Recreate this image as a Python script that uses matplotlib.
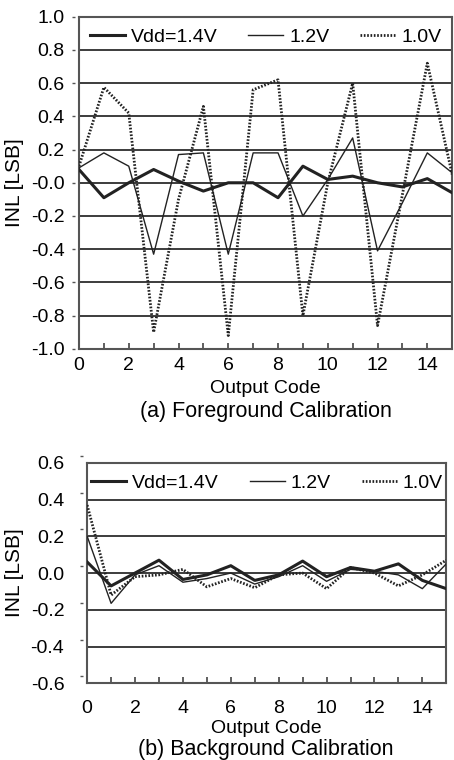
import matplotlib
matplotlib.use("Agg")
import matplotlib.pyplot as plt
import numpy as np
from matplotlib.transforms import ScaledTranslation

plt.rcParams['font.family'] = ['Liberation Sans', 'DejaVu Sans']

codes = np.arange(16)
labels = ['Vdd=1.4V', '1.2V', '1.0V']

# (a) foreground calibration
fg_14 = [0.08, -0.09, 0.0, 0.08, 0.01, -0.05, 0.0, 0.0, -0.09, 0.1, 0.02, 0.04, 0.0, -0.025, 0.025, -0.06]
fg_12 = [0.09, 0.18, 0.1, -0.43, 0.17, 0.18, -0.43, 0.18, 0.18, -0.2, 0.02, 0.27, -0.41, -0.12, 0.18, 0.06]
fg_10 = [0.1, 0.575, 0.42, -0.9, -0.1, 0.46, -0.92, 0.56, 0.62, -0.8, 0.0, 0.6, -0.86, -0.07, 0.72, 0.05]

# (b) background calibration
bg_14 = [0.06, -0.07, 0.0, 0.07, -0.035, -0.01, 0.04, -0.04, -0.01, 0.065, -0.02, 0.03, 0.01, 0.05, -0.04, -0.085]
bg_12 = [0.2, -0.165, -0.01, 0.04, -0.05, -0.03, 0.0, -0.06, -0.02, 0.04, -0.045, 0.02, 0.01, -0.01, -0.085, 0.05]
bg_10 = [0.37, -0.12, -0.02, -0.01, 0.02, -0.075, -0.03, -0.08, -0.01, 0.0, -0.085, 0.03, 0.0, -0.07, -0.01, 0.07]

fig = plt.figure(figsize=(4.54, 7.6), dpi=100)
ax1 = fig.add_axes([0.174, 0.541, 0.822, 0.437])
ax2 = fig.add_axes([0.192, 0.101, 0.791, 0.290])

ink = '#222222'
grid_c = '#3c3c3c'


def style(ax, series, ylim, yticks, tick_dy):
    s14, s12, s10 = series
    ax.plot(codes, s14, color=ink, lw=2.2, label=labels[0], zorder=3)
    ax.plot(codes, s12, color=ink, lw=1.0, label=labels[1], zorder=3)
    ax.plot(codes, s10, color=ink, lw=2.0, dashes=(0.6, 0.6), label=labels[2], zorder=3)
    ax.set_xlim(0, 15)
    ax.set_ylim(*ylim)
    ax.set_yticks(yticks)
    ax.set_yticklabels([f'{v:.1f}' for v in yticks])
    for v in yticks:
        if ylim[0] < v < ylim[1]:
            ax.axhline(v, color=grid_c, lw=1.4, zorder=1)
    ax.set_xticks(np.arange(0, 15, 2))
    ax.set_xticks(np.arange(1, 16, 2), minor=True)
    ax.tick_params(axis='x', which='both', direction='in', length=4.5, width=1.2,
                   color='#444444', labelsize=14, pad=6)
    ax.tick_params(axis='y', direction='out', length=2.5, width=1.0,
                   color='#555555', labelsize=14, pad=8)
    for sp in ax.spines.values():
        sp.set_color('#555555')
        sp.set_linewidth(1.5)
    off = ScaledTranslation(-0.04, tick_dy, fig.dpi_scale_trans)
    for t in ax.yaxis.get_major_ticks():
        t.tick1line.set_transform(t.tick1line.get_transform() + off)
    ax.legend(loc='upper center', bbox_to_anchor=(0.5, 1.0), ncol=3, frameon=False,
              fontsize=14, handlelength=1.8, handletextpad=0.3, columnspacing=1.6,
              borderaxespad=0.2)


style(ax1, (fg_14, fg_12, fg_10), (-1.0, 1.0), np.round(np.arange(-1.0, 1.01, 0.2), 1), 0.0)
style(ax2, (bg_14, bg_12, bg_10), (-0.6, 0.6), np.round(np.arange(-0.6, 0.61, 0.2), 1), 0.07)
ax1.set_xlabel('Output Code', fontsize=14, labelpad=4)
ax2.set_xlabel('Output Code', fontsize=14, labelpad=2)
ax2.tick_params(axis='y', pad=14)
ax2.tick_params(axis='x', pad=12)

fig.text(0.031, 1 - 183 / 760, 'INL [LSB]', rotation=90, ha='center', va='center', fontsize=15)
fig.text(0.031, 1 - 573 / 760, 'INL [LSB]', rotation=90, ha='center', va='center', fontsize=15)
fig.text(0.585, 1 - 412 / 760, '(a) Foreground Calibration', ha='center', va='center', fontsize=15.5)
fig.text(0.585, 1 - 749 / 760, '(b) Background Calibration', ha='center', va='center', fontsize=15.5)

fig.savefig('out.png', dpi=100)
